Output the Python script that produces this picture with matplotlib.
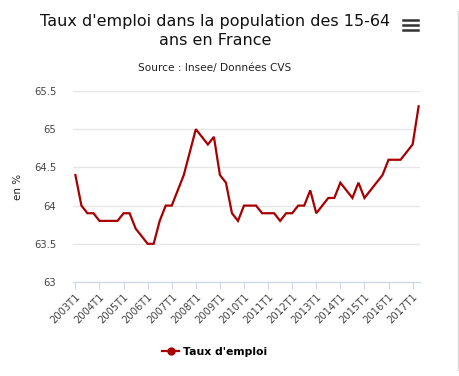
import numpy as np
import matplotlib.pyplot as plt
from matplotlib.lines import Line2D

years = list(range(2003, 2018))
quarters = ["T1", "T2", "T3", "T4"]
categories = [f"{y}{q}" for y in years for q in quarters][:58]

taux = [64.4, 64.0, 63.9, 63.9,
        63.8, 63.8, 63.8, 63.8,
        63.9, 63.9, 63.7, 63.6,
        63.5, 63.5, 63.8, 64.0,
        64.0, 64.2, 64.4, 64.7,
        65.0, 64.9, 64.8, 64.9,
        64.4, 64.3, 63.9, 63.8,
        64.0, 64.0, 64.0, 63.9,
        63.9, 63.9, 63.8, 63.9,
        63.9, 64.0, 64.0, 64.2,
        63.9, 64.0, 64.1, 64.1,
        64.3, 64.2, 64.1, 64.3,
        64.1, 64.2, 64.3, 64.4,
        64.6, 64.6, 64.6, 64.7,
        64.8, 65.3]
yticks = [63, 63.5, 64, 64.5, 65, 65.5]
ytick_labels = ["63", "63.5", "64", "64.5", "65", "65.5"]

plt.rcParams['font.family'] = ['DejaVu Sans']

fig = plt.figure(figsize=(4.59, 3.76), dpi=100)
ax = fig.add_axes([0.159, 0.25, 0.757, 0.508])

x = np.arange(len(taux))
red = "#a80000"
ax.plot(x, taux, color=red, lw=1.6, solid_joinstyle='miter')

ax.set_xlim(-0.4, 57.3)
ax.set_ylim(63, 65.5)
ax.set_yticks(yticks)
ax.set_yticklabels(ytick_labels)
tick_pos = x[::4]
ax.set_xticks(tick_pos)
ax.set_xticklabels(categories[::4], rotation=45, ha='right', rotation_mode='anchor')

ax.grid(axis='y', color='#e6e6e6', lw=1)
ax.set_axisbelow(True)
for s in ['top', 'right', 'left']:
    ax.spines[s].set_visible(False)
ax.spines['bottom'].set_color('#ccd6eb')
ax.tick_params(axis='y', length=0, pad=12, labelsize=7.2, labelcolor='#444444')
ax.tick_params(axis='x', length=5, color='#ccd6eb', labelsize=7.2, labelcolor='#444444', pad=2)

ax.set_ylabel("en %", fontsize=7.5, color='#222222', labelpad=8)

fig.text(0.468, 0.918, "Taux d'emploi dans la population des 15-64\nans en France",
         ha='center', va='center', fontsize=11.5, color='#111111', linespacing=1.35)
fig.text(0.468, 0.818, "Source : Insee/ Données CVS", ha='center', va='center',
         fontsize=7.6, color='#222222')

# menu icon
for dy in [0.0, 0.013, 0.026]:
    fig.add_artist(Line2D([0.878, 0.91], [0.921 + dy, 0.921 + dy], color='#333333', lw=1.8,
                          transform=fig.transFigure))
# right border
fig.add_artist(Line2D([0.997, 0.997], [0.015, 0.97], color='#d8d8d8', lw=1,
                      transform=fig.transFigure))

leg = fig.legend([Line2D([], [], color=red, lw=1.6, marker='o', markersize=5)],
                 ["Taux d'emploi"], loc='center', bbox_to_anchor=(0.468, 0.065),
                 frameon=False, handlelength=1.5, handletextpad=0.4,
                 prop={'size': 7.8, 'weight': 'bold'})

fig.savefig("out.png", dpi=100)
